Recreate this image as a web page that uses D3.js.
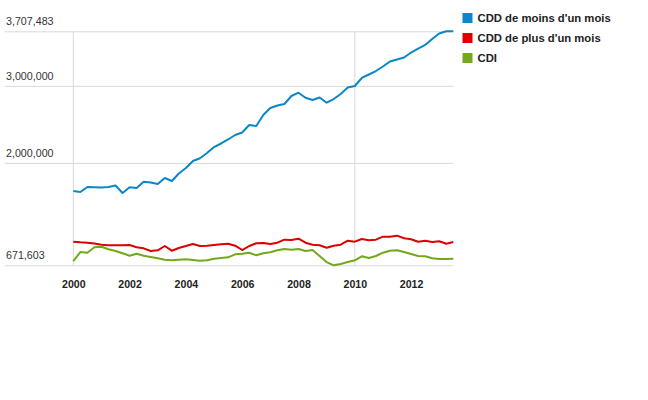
<!DOCTYPE html>
<html>
<head>
<meta charset="utf-8">
<script src="https://cdn.jsdelivr.net/npm/d3@7"></script>
<style>
  body { margin: 0; background: #fff; }
  svg { font-family: "Liberation Sans", Arial, sans-serif; }
</style>
</head>
<body>
<svg id="chart" width="648" height="400"></svg>
<script>
// quarterly data, 2000 T1 -> 2013 T3
const quarters = [
  "2000-1","2000-2","2000-3","2000-4","2001-1","2001-2","2001-3","2001-4",
  "2002-1","2002-2","2002-3","2002-4","2003-1","2003-2","2003-3","2003-4",
  "2004-1","2004-2","2004-3","2004-4","2005-1","2005-2","2005-3","2005-4",
  "2006-1","2006-2","2006-3","2006-4","2007-1","2007-2","2007-3","2007-4",
  "2008-1","2008-2","2008-3","2008-4","2009-1","2009-2","2009-3","2009-4",
  "2010-1","2010-2","2010-3","2010-4","2011-1","2011-2","2011-3","2011-4",
  "2012-1","2012-2","2012-3","2012-4","2013-1","2013-2","2013-3"
];

const cddMoinsUnMois = [
  1636000,1623000,1688000,1685000,1681000,1688000,1707000,1610000,
  1684000,1675000,1756000,1746000,1726000,1804000,1765000,1863000,
  1934000,2025000,2060000,2129000,2206000,2252000,2304000,2362000,
  2395000,2492000,2479000,2622000,2712000,2745000,2764000,2868000,
  2911000,2846000,2816000,2849000,2781000,2829000,2894000,2978000,
  2998000,3102000,3147000,3192000,3251000,3316000,3342000,3368000,
  3432000,3484000,3530000,3608000,3679000,3707483,3707483
];

const cddPlusUnMois = [
  978000,970000,965000,954000,938000,932000,931000,932000,
  935000,905000,892000,857000,866000,922000,861000,896000,
  922000,948000,922000,926000,935000,944000,952000,926000,
  870000,922000,957000,961000,948000,965000,1004000,1000000,
  1017000,965000,939000,931000,900000,926000,939000,991000,
  978000,1013000,996000,1004000,1043000,1043000,1056000,1022000,
  1009000,978000,991000,974000,983000,952000,974000
];

const cdi = [
  727000,844000,835000,905000,912000,879000,857000,827000,
  796000,822000,796000,779000,762000,744000,737000,744000,
  749000,740000,731000,737000,757000,766000,775000,814000,
  822000,835000,801000,827000,840000,866000,883000,874000,
  883000,857000,870000,792000,714000,671603,689000,714000,
  737000,788000,766000,792000,835000,861000,866000,844000,
  818000,792000,788000,762000,753000,753000,757000
];

const seriesNames = ["CDD de moins d'un mois", "CDD de plus d'un mois", "CDI"];
const seriesColors = ["#0b87c8", "#dc0000", "#74a81c"];
const yTicks = [671603, 2000000, 3000000, 3707483];
const xTicks = [2000, 2002, 2004, 2006, 2008, 2010, 2012];
const xGrid = [2000, 2010];

const svg = d3.select("#chart");
const gridLeft = 5, plotLeft = 73.3, plotRight = 453.3, plotTop = 31.3, plotBottom = 265.3;

const toYear = q => {
  const [yr, t] = q.split("-").map(Number);
  return yr + (t - 1) / 4;
};

const x = d3.scaleLinear()
  .domain([2000, toYear(quarters[quarters.length - 1])])
  .range([plotLeft, plotRight]);
const y = d3.scaleLinear()
  .domain([d3.min(yTicks), d3.max(yTicks)])
  .range([plotBottom, plotTop]);

// horizontal grid + labels
const yAxis = svg.append("g")
  .attr("transform", `translate(${gridLeft},0)`)
  .call(d3.axisRight(y).tickValues(yTicks).tickSize(plotRight - gridLeft)
    .tickFormat(d3.format(",")));
yAxis.select(".domain").remove();
yAxis.selectAll("line").attr("stroke", "#d9d9d9");
yAxis.selectAll("text")
  .attr("x", 1).attr("dy", -6.5)
  .attr("text-anchor", "start")
  .attr("fill", "#333")
  .style("font-size", "10.7px");

// vertical grid
svg.append("g").selectAll("line")
  .data(xGrid)
  .join("line")
  .attr("x1", d => x(d)).attr("x2", d => x(d))
  .attr("y1", plotTop).attr("y2", plotBottom)
  .attr("stroke", "#d9d9d9");

// x axis
const xAxis = svg.append("g")
  .attr("transform", `translate(0,${plotBottom})`)
  .call(d3.axisBottom(x).tickValues(xTicks).tickSize(0).tickFormat(d3.format("d")));
xAxis.select(".domain").remove();
xAxis.selectAll("text")
  .attr("y", 22.5).attr("dy", 0)
  .attr("fill", "#222")
  .style("font-size", "10.6px")
  .style("font-weight", "bold");

// lines
const series = [cddMoinsUnMois, cddPlusUnMois, cdi];
const line = d3.line()
  .x((d, i) => x(toYear(quarters[i])))
  .y(d => y(d));

svg.append("g").selectAll("path")
  .data(series)
  .join("path")
  .attr("d", d => line(d))
  .attr("fill", "none")
  .attr("stroke", (d, i) => seriesColors[i])
  .attr("stroke-width", 2)
  .attr("stroke-linejoin", "round");

// legend
const legend = svg.append("g").attr("transform", "translate(462.5,13)");
const item = legend.selectAll("g")
  .data(seriesNames)
  .join("g")
  .attr("transform", (d, i) => `translate(0,${i * 20})`);
item.append("rect")
  .attr("width", 10).attr("height", 10)
  .attr("fill", (d, i) => seriesColors[i]);
item.append("text")
  .attr("x", 15).attr("y", 9)
  .attr("fill", "#222")
  .style("font-size", "11.3px")
  .style("font-weight", "bold")
  .text(d => d);
</script>
</body>
</html>
